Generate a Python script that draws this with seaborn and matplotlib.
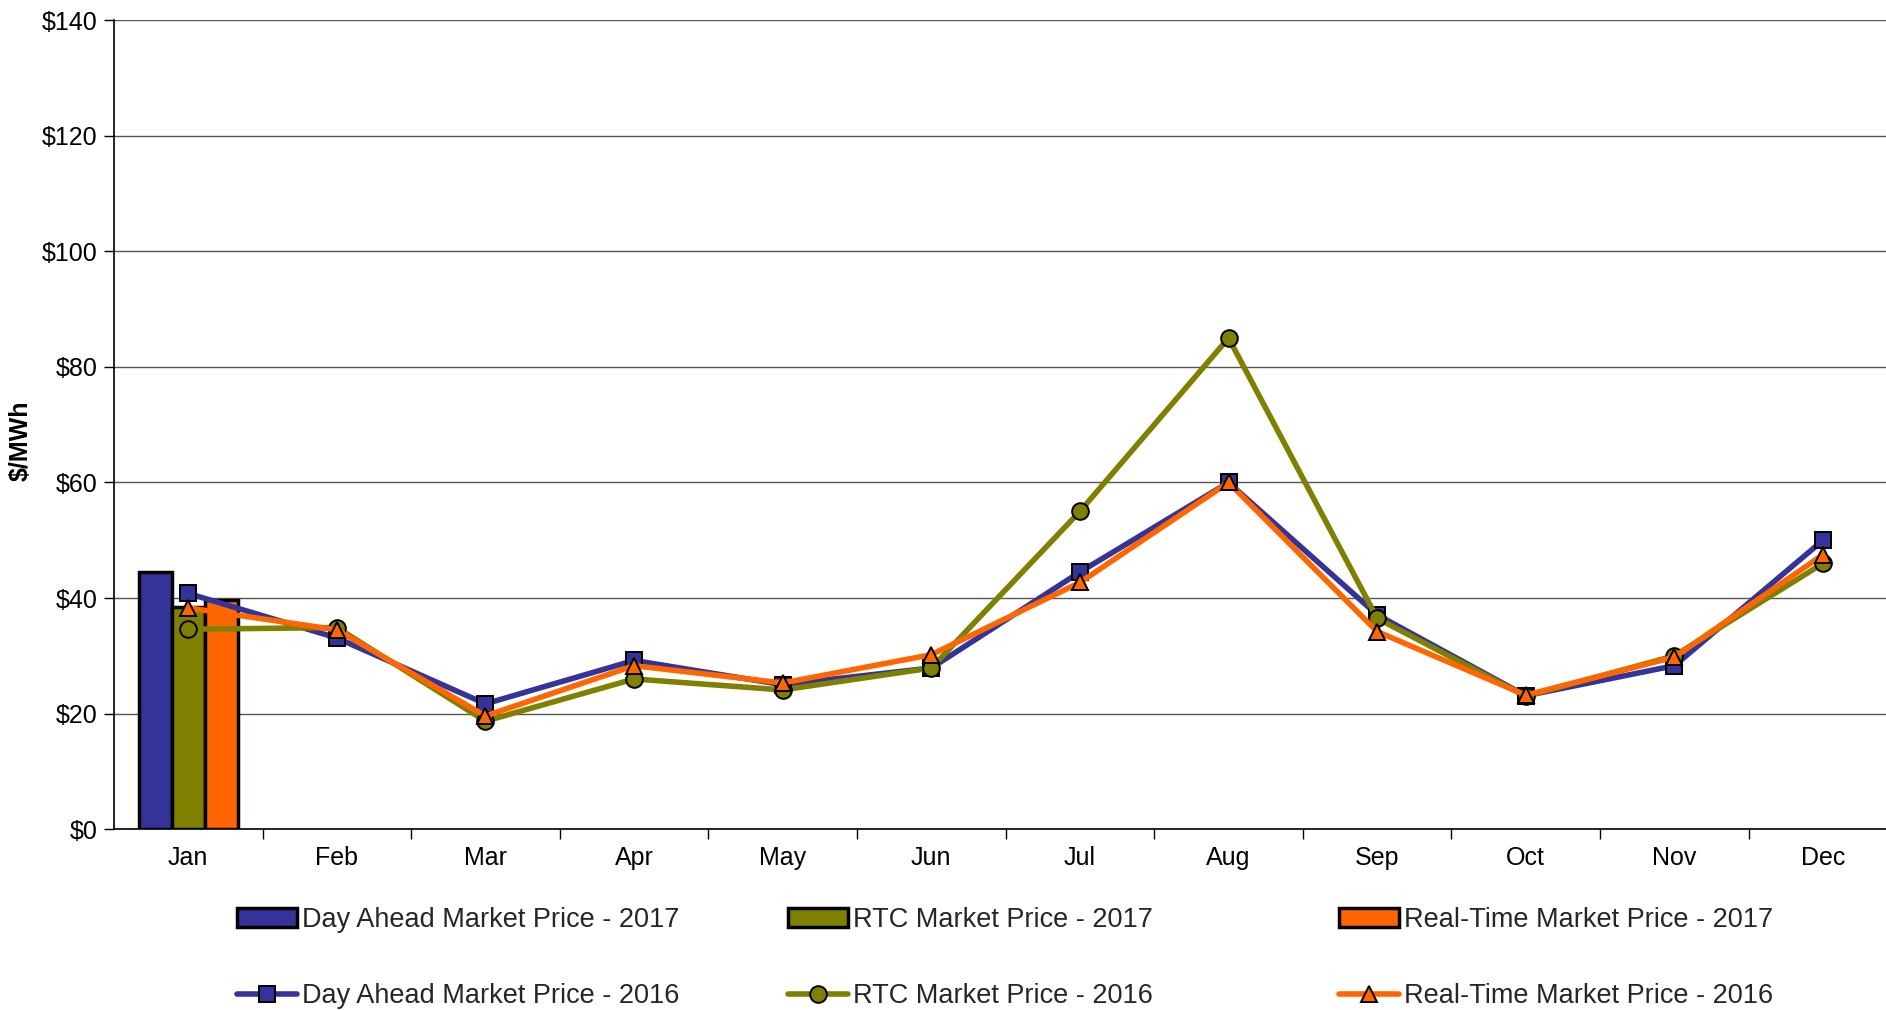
import matplotlib
matplotlib.use("Agg")
import matplotlib.pyplot as plt
from matplotlib.patches import Patch
from matplotlib.lines import Line2D
from matplotlib.ticker import StrMethodFormatter
import pandas as pd
import seaborn as sns

sns.set_theme(style="white")
plt.rcParams["font.family"] = ["Liberation Sans", "DejaVu Sans"]

months = ["Jan", "Feb", "Mar", "Apr", "May", "Jun", "Jul", "Aug", "Sep", "Oct", "Nov", "Dec"]

# 2017 monthly averages (only January so far)
bar_series = ["Day Ahead Market Price - 2017", "RTC Market Price - 2017", "Real-Time Market Price - 2017"]
bar_month = ["Jan", "Jan", "Jan"]
bar_values = [44.5, 38.4, 39.6]

# 2016 monthly averages
da_2016 = [40.8, 33.1, 21.7, 29.2, 25.0, 27.9, 44.5, 60.0, 37.1, 23.1, 28.3, 50.0]
rtc_2016 = [34.6, 34.9, 18.7, 26.0, 24.1, 27.9, 55.0, 85.0, 36.5, 23.0, 30.0, 46.0]
rt_2016 = [38.3, 34.5, 19.6, 28.3, 25.3, 30.2, 42.7, 60.0, 34.2, 23.2, 29.8, 47.5]
line_series = ["Day Ahead Market Price - 2016", "RTC Market Price - 2016", "Real-Time Market Price - 2016"]

colors = ["#333399", "#808000", "#FF6600"]
markers = ["s", "o", "^"]

bars = pd.DataFrame({"month": bar_month, "series": bar_series, "value": bar_values})
lines = pd.DataFrame({
    "month": months * 3,
    "series": [s for s in line_series for _ in months],
    "value": da_2016 + rtc_2016 + rt_2016,
})

fig = plt.figure(figsize=(18.86, 10.10), dpi=100)
ax = fig.add_axes([0.0604, 0.179, 0.9456, 0.801])

sns.barplot(data=bars, x="month", y="value", hue="series", order=months,
            hue_order=bar_series, palette=colors, width=2 / 3, gap=0,
            edgecolor="black", linewidth=2.5, saturation=1, legend=False, ax=ax)

for name, col, mk in zip(line_series, colors, markers):
    sns.pointplot(data=lines[lines["series"] == name], x="month", y="value", order=months,
                  color=col, marker=mk, markersize=12, markeredgecolor="black",
                  markeredgewidth=1.4, linewidth=4, errorbar=None, ax=ax)

ax.set_xlim(-0.5, 11.5)
ax.set_ylim(0, 140)
ax.set_yticks(range(0, 141, 20))
ax.yaxis.set_major_formatter(StrMethodFormatter("${x:.0f}"))
ax.grid(axis="y", color="#555555", linewidth=1.0)
ax.set_axisbelow(True)
ax.set_xticks(range(12))
ax.set_xticklabels(months)
ax.set_xticks([i + 0.5 for i in range(11)], minor=True)
ax.tick_params(axis="x", which="major", length=0, labelsize=18, pad=12, colors="black")
ax.tick_params(axis="x", which="minor", length=7, width=1, color="black", bottom=True)
ax.tick_params(axis="y", length=7, width=1, labelsize=18, pad=5, left=True, colors="black")
ax.set_xlabel("")
ax.set_ylabel("$/MWh", fontsize=18, fontweight="bold", color="black")
ax.yaxis.set_label_coords(-0.0454, 0.480)
for side in ["top", "right"]:
    ax.spines[side].set_visible(False)
for side in ["left", "bottom"]:
    ax.spines[side].set_color("black")
    ax.spines[side].set_linewidth(1.2)

# legend: three columns, 2017 bars on top row and 2016 lines below
col_x = [0.1257, 0.4178, 0.7100]
for i in range(3):
    handles = [
        Patch(facecolor=colors[i], edgecolor="black", linewidth=2.5),
        Line2D([], [], color=colors[i], linewidth=4, marker=markers[i], markersize=12,
               markeredgecolor="black", markeredgewidth=1.4),
    ]
    fig.legend(handles, [bar_series[i], line_series[i]], loc="upper left",
               bbox_to_anchor=(col_x[i], 0.102), frameon=False, fontsize=19.5,
               handlelength=2.2, handletextpad=0.2, labelspacing=1.85, borderpad=0,
               borderaxespad=0)

fig.savefig("out.png", dpi=100)
